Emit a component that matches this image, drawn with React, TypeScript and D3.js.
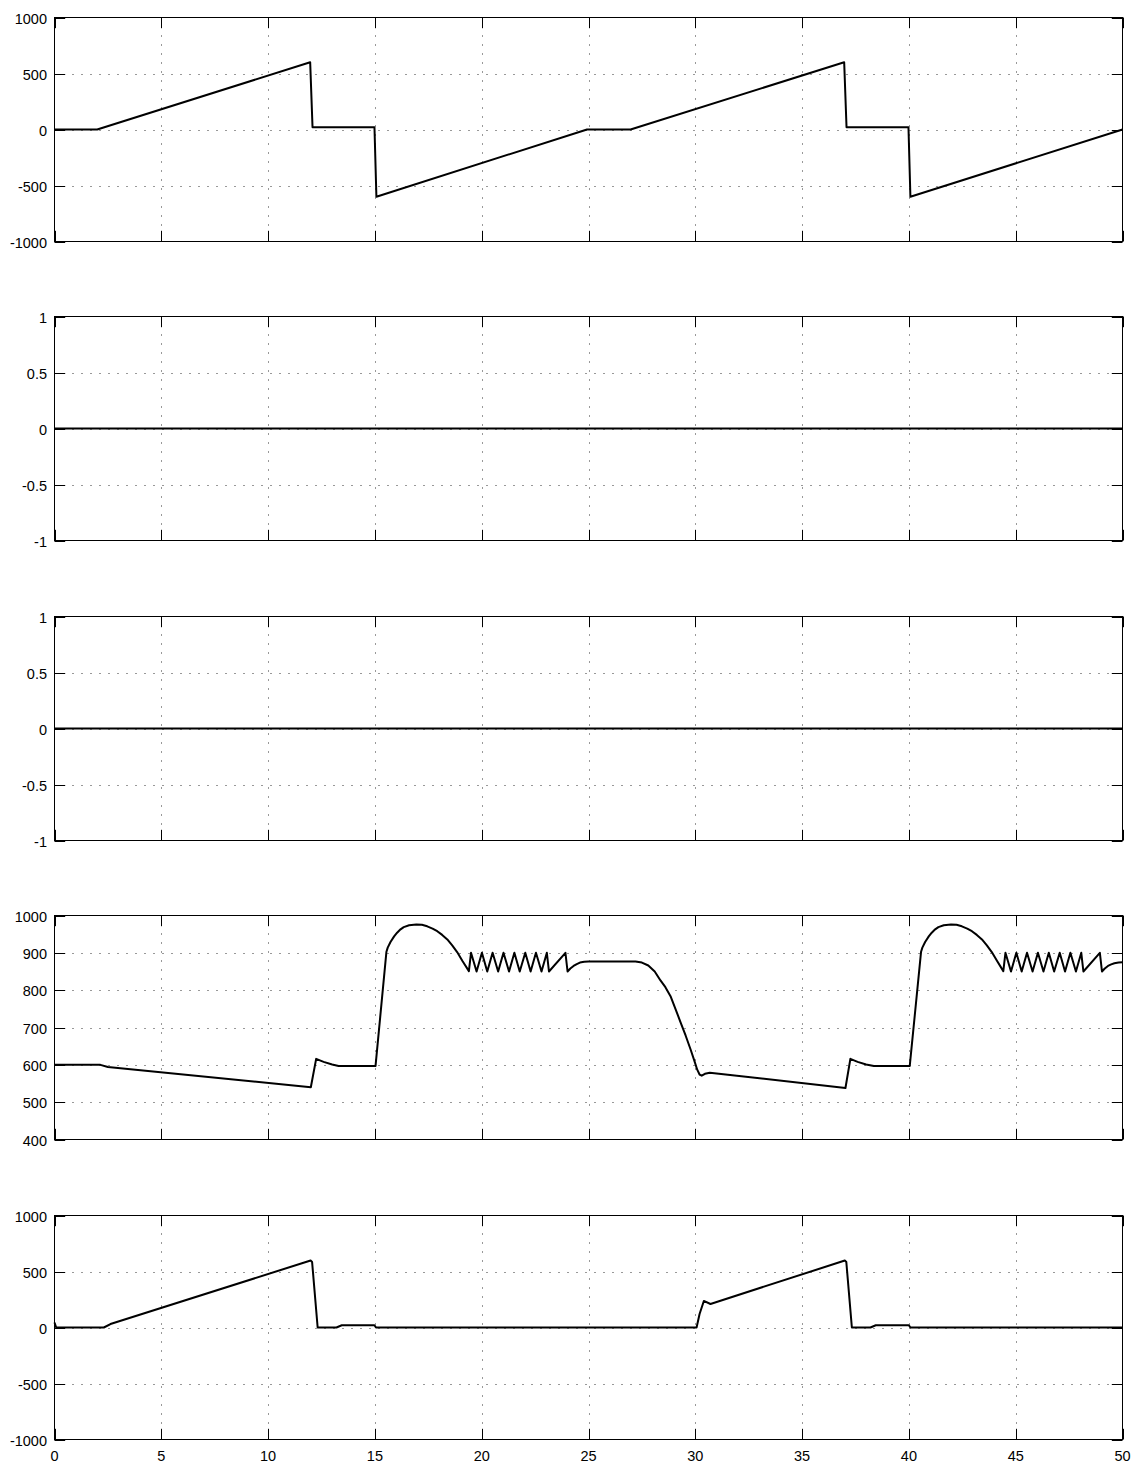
import React from 'react'
import * as d3 from 'd3'

// time axis
const xTicks = [0, 5, 10, 15, 20, 25, 30, 35, 40, 45, 50]

// panel 1
const time1 = [0, 2, 11.97, 12.08, 14.98, 15.07, 24.93, 26.97, 36.97, 37.08, 39.98, 40.07, 50]
const signal1 = [0, 0, 600, 20, 20, -600, 0, 0, 600, 20, 20, -600, 0]
const ticks1 = [-1000, -500, 0, 500, 1000]

// panels 2 and 3 (flat)
const time2 = [0, 50]
const signal2 = [0, 0]
const time3 = [0, 50]
const signal3 = [0, 0]
const ticksUnit = [-1, -0.5, 0, 0.5, 1]

// panel 4
const time4 = [
  0, 2.15, 2.5, 12.0, 12.25, 12.6, 13.0, 13.3, 15.03,
  15.54, 15.6, 15.73, 15.9, 16.04, 16.2, 16.35, 16.6, 16.94, 17.2, 17.45, 17.7, 17.92, 18.15, 18.39, 18.62, 18.85, 19.1,
  19.4, 19.5, 19.76, 20.01, 20.26, 20.51, 20.77, 21.02, 21.28, 21.53, 21.78, 22.04, 22.29, 22.54, 22.8, 23.05, 23.15,
  23.92, 24.02, 24.15, 24.3, 24.45, 24.6, 24.8, 25.0,
  27.2, 27.5, 27.8, 28.1, 28.37, 28.6, 28.84, 29.07, 29.31, 29.55, 29.78, 29.95, 30.09, 30.2, 30.3, 30.45, 30.68,
  37.03, 37.26, 37.6, 38.0, 38.36, 40.04,
  40.57, 40.63, 40.76, 40.93, 41.07, 41.23, 41.38, 41.63, 41.97, 42.23, 42.48, 42.73, 42.95, 43.18, 43.42, 43.65, 43.88, 44.13,
  44.42, 44.52, 44.78, 45.03, 45.28, 45.53, 45.79, 46.04, 46.3, 46.55, 46.8, 47.06, 47.31, 47.56, 47.82, 48.07, 48.17,
  48.94, 49.04, 49.17, 49.32, 49.47, 49.62, 49.82, 50
]
const signal4 = [
  600, 600, 594, 540, 616, 608, 601, 597, 597,
  903, 914, 929, 944, 954, 963, 969, 974, 976, 975, 971, 965, 958, 948, 936, 920, 902, 878,
  851, 900, 850, 900, 850, 900, 850, 900, 850, 900, 850, 900, 850, 900, 850, 900, 850,
  900, 850, 858, 865, 870, 874, 876, 877,
  877, 874, 866, 850, 826, 808, 784, 750, 714, 678, 641, 612, 587, 574, 571, 576, 579,
  538, 616, 608, 601, 597, 597,
  903, 914, 929, 944, 954, 963, 969, 974, 976, 975, 971, 965, 958, 948, 936, 920, 902, 878,
  851, 900, 850, 900, 850, 900, 850, 900, 850, 900, 850, 900, 850, 900, 850, 900, 850,
  900, 850, 858, 865, 869, 872, 874, 875
]
const ticks4 = [400, 500, 600, 700, 800, 900, 1000]

// panel 5
const time5 = [
  0, 0.08, 2.31, 2.62, 11.99, 12.06, 12.32, 13.2, 13.45, 14.98, 15.05, 30.06, 30.2, 30.4, 30.71,
  37.0, 37.07, 37.33, 38.2, 38.45, 40.0, 40.07, 50
]
const signal5 = [
  45, 0, 0, 31, 598, 585, 0, 0, 20, 20, 0, 0, 120, 237, 210,
  598, 585, 0, 0, 20, 20, 0, 0
]
const ticks5 = [-1000, -500, 0, 500, 1000]

const panels = [
  { time: time1, signal: signal1, ticks: ticks1 },
  { time: time2, signal: signal2, ticks: ticksUnit },
  { time: time3, signal: signal3, ticks: ticksUnit },
  { time: time4, signal: signal4, ticks: ticks4 },
  { time: time5, signal: signal5, ticks: ticks5 },
]

const W = 1137
const H = 1465
const left = 54.5
const right = 1122.5
const tops = [17.5, 316.5, 616.5, 915.5, 1215.5]
const ph = 224
const tickLen = 10.7
const font = 'Liberation Sans, Arial, Helvetica, sans-serif'

const x = d3.scaleLinear().domain([0, 50]).range([left, right])

function Panel({ top, time, signal, ticks, showX }) {
  const bottom = top + ph
  const y = d3.scaleLinear().domain([ticks[0], ticks[ticks.length - 1]]).range([bottom, top])
  const pts = time.map((t, i) => [t, signal[i]])
  const line = d3.line().x(d => x(d[0])).y(d => y(d[1]))

  return (
    <g>
      {/* grid */}
      {xTicks.slice(1, -1).map(t => (
        <line key={'gx' + t} x1={Math.round(x(t)) + 0.5} x2={Math.round(x(t)) + 0.5} y1={top} y2={bottom}
          stroke="#333" strokeWidth={1} strokeDasharray="1 8" />
      ))}
      {ticks.slice(1, -1).map(v => (
        <line key={'gy' + v} x1={left} x2={right} y1={Math.round(y(v)) + 0.5} y2={Math.round(y(v)) + 0.5}
          stroke="#333" strokeWidth={1} strokeDasharray="1 8" />
      ))}
      {/* ticks */}
      {xTicks.map(t => {
        const xx = Math.round(x(t)) + 0.5
        return (
          <g key={'tx' + t}>
            <line x1={xx} x2={xx} y1={bottom} y2={bottom - tickLen} stroke="#000" />
            <line x1={xx} x2={xx} y1={top} y2={top + tickLen} stroke="#000" />
          </g>
        )
      })}
      {ticks.map(v => {
        const yy = Math.round(y(v)) + 0.5
        return (
          <g key={'ty' + v}>
            <line x1={left} x2={left + tickLen} y1={yy} y2={yy} stroke="#000" />
            <line x1={right} x2={right - tickLen} y1={yy} y2={yy} stroke="#000" />
            <text x={left - 7.5} y={yy} dy="0.36em" textAnchor="end" fontFamily={font} fontSize={14.5} fill="#000">
              {v}
            </text>
          </g>
        )
      })}
      {showX && xTicks.map(t => (
        <text key={'lx' + t} x={x(t)} y={bottom + 21} textAnchor="middle" fontFamily={font} fontSize={14.5} fill="#000">
          {t}
        </text>
      ))}
      {/* data */}
      <path d={line(pts)} fill="none" stroke="#000" strokeWidth={2} strokeLinejoin="round" />
      {/* frame */}
      <rect x={left} y={top} width={right - left} height={ph} fill="none" stroke="#000" strokeWidth={1} />
    </g>
  )
}

export default function App() {
  return (
    <svg width={W} height={H} style={{ position: 'absolute', left: 0, top: 0, background: '#fff' }}>
      <rect x={0} y={0} width={W} height={H} fill="#fff" />
      {panels.map((p, i) => (
        <Panel key={i} top={tops[i]} time={p.time} signal={p.signal} ticks={p.ticks} showX={i === panels.length - 1} />
      ))}
    </svg>
  )
}
